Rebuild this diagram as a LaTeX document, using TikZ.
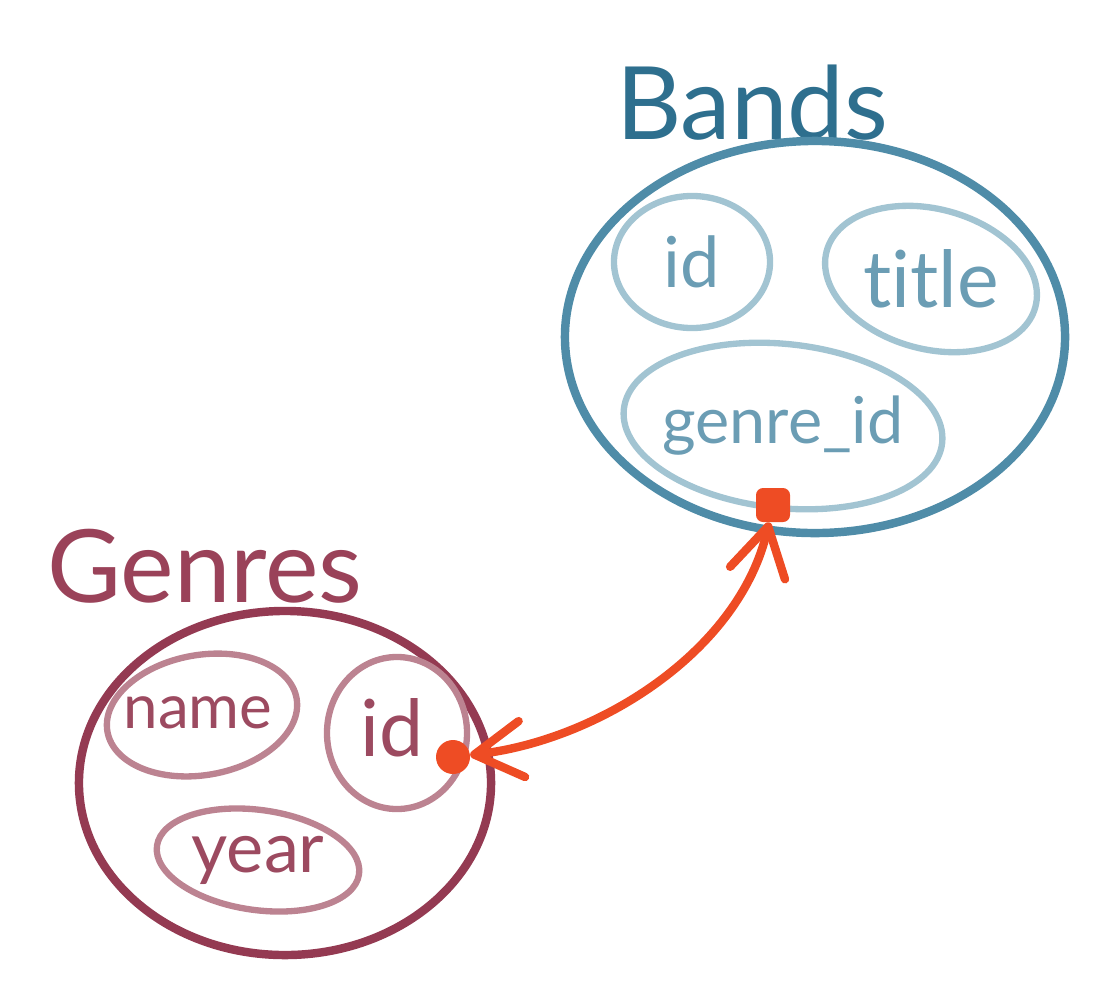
\documentclass[tikz,border=0pt]{standalone}
\usepackage{fontspec}
\setmainfont{Lato}[Ligatures=NoCommon]
\usetikzlibrary{arrows.meta, positioning, shapes.geometric}

\definecolor{bandsdark}{HTML}{2E6F8E}
\definecolor{bandsline}{HTML}{4F8CA8}
\definecolor{bandslight}{HTML}{A2C4D2}
\definecolor{bandstext}{HTML}{6B9DB4}
\definecolor{genresdark}{HTML}{9A4259}
\definecolor{genresline}{HTML}{943A52}
\definecolor{genreslight}{HTML}{BC8391}
\definecolor{genrestext}{HTML}{9C4A60}
\definecolor{linkcol}{HTML}{EE4C24}

\begin{document}
\begin{tikzpicture}[
    x=0.025cm, y=-0.025cm,
    line cap=round,
    heading/.style={
        font=\fontsize{72}{80}\selectfont,
        inner sep=0pt
    },
    tablebox/.style={
        ellipse,
        draw=#1,
        line width=6pt,
        inner sep=0pt
    },
    field/.style={
        ellipse,
        draw=#1,
        line width=4.5pt,
        inner sep=0pt
    },
    fieldname/.style={
        inner sep=0pt,
        font=\fontsize{50}{56}\selectfont
    },
    keydot/.style={
        circle,
        fill=linkcol,
        minimum size=34*0.025cm,
        inner sep=0pt
    },
    link/.style={
        {Straight Barb[length=34pt, width=40pt, round]}-{Straight Barb[length=34pt, width=40pt, round]},
        line width=6pt,
        draw=linkcol
    }
]
\useasboundingbox (0,0) rectangle (1102,1001);

% Bands table
\node[heading, text=bandsdark] (bandslabel) at (752,103) {Bands};
\node[tablebox=bandsline, minimum width=12.5cm, minimum height=9.8cm] (bands) at (815,337) {};
\node[field=bandslight, minimum width=3.9cm, minimum height=3.3cm] (bandsid) at (692,262) {};
\node[field=bandslight, minimum width=5.4cm, minimum height=3.5cm, rotate=-15] (bandstitle) at (931,279) {};
\node[field=bandslight, minimum width=8cm, minimum height=4.1cm, rotate=-6] (bandsgenre) at (783,426) {};
\node[fieldname, text=bandstext] at (bandsid) {id};
\node[fieldname, text=bandstext, font=\fontsize{56}{60}\selectfont] at (bandstitle) {title};
\node[fieldname, text=bandstext, font=\fontsize{46}{50}\selectfont] at (bandsgenre) {genre\_id};

% Genres table
\node[heading, text=genresdark] (genreslabel) at (205,566) {Genres};
\node[field=genreslight, minimum width=4.8cm, minimum height=3.0cm, rotate=10] (genresname) at (202,715) {};
\node[tablebox=genresline, minimum width=10.3cm, minimum height=8.6cm] (genres) at (285,783) {};
\node[field=genreslight, minimum width=3.5cm, minimum height=3.8cm] (genresid) at (397,733) {};
\node[field=genreslight, minimum width=5.1cm, minimum height=2.5cm, rotate=-8] (genresyear) at (258,860) {};
\node[fieldname, text=genrestext, font=\fontsize{44}{50}\selectfont] at (198,713) {name};
\node[fieldname, text=genrestext, font=\fontsize{56}{60}\selectfont] at (392,728) {id};
\node[fieldname, text=genrestext] at (genresyear) {year};

% foreign key
\node[keydot, rounded corners=5pt, rectangle] (banddot) at (773,505) {};
\node[keydot] (genredot) at (453,757) {};
\draw[link] (banddot) .. controls (740,650) and (600,740) .. (genredot);

\end{tikzpicture}
\end{document}
